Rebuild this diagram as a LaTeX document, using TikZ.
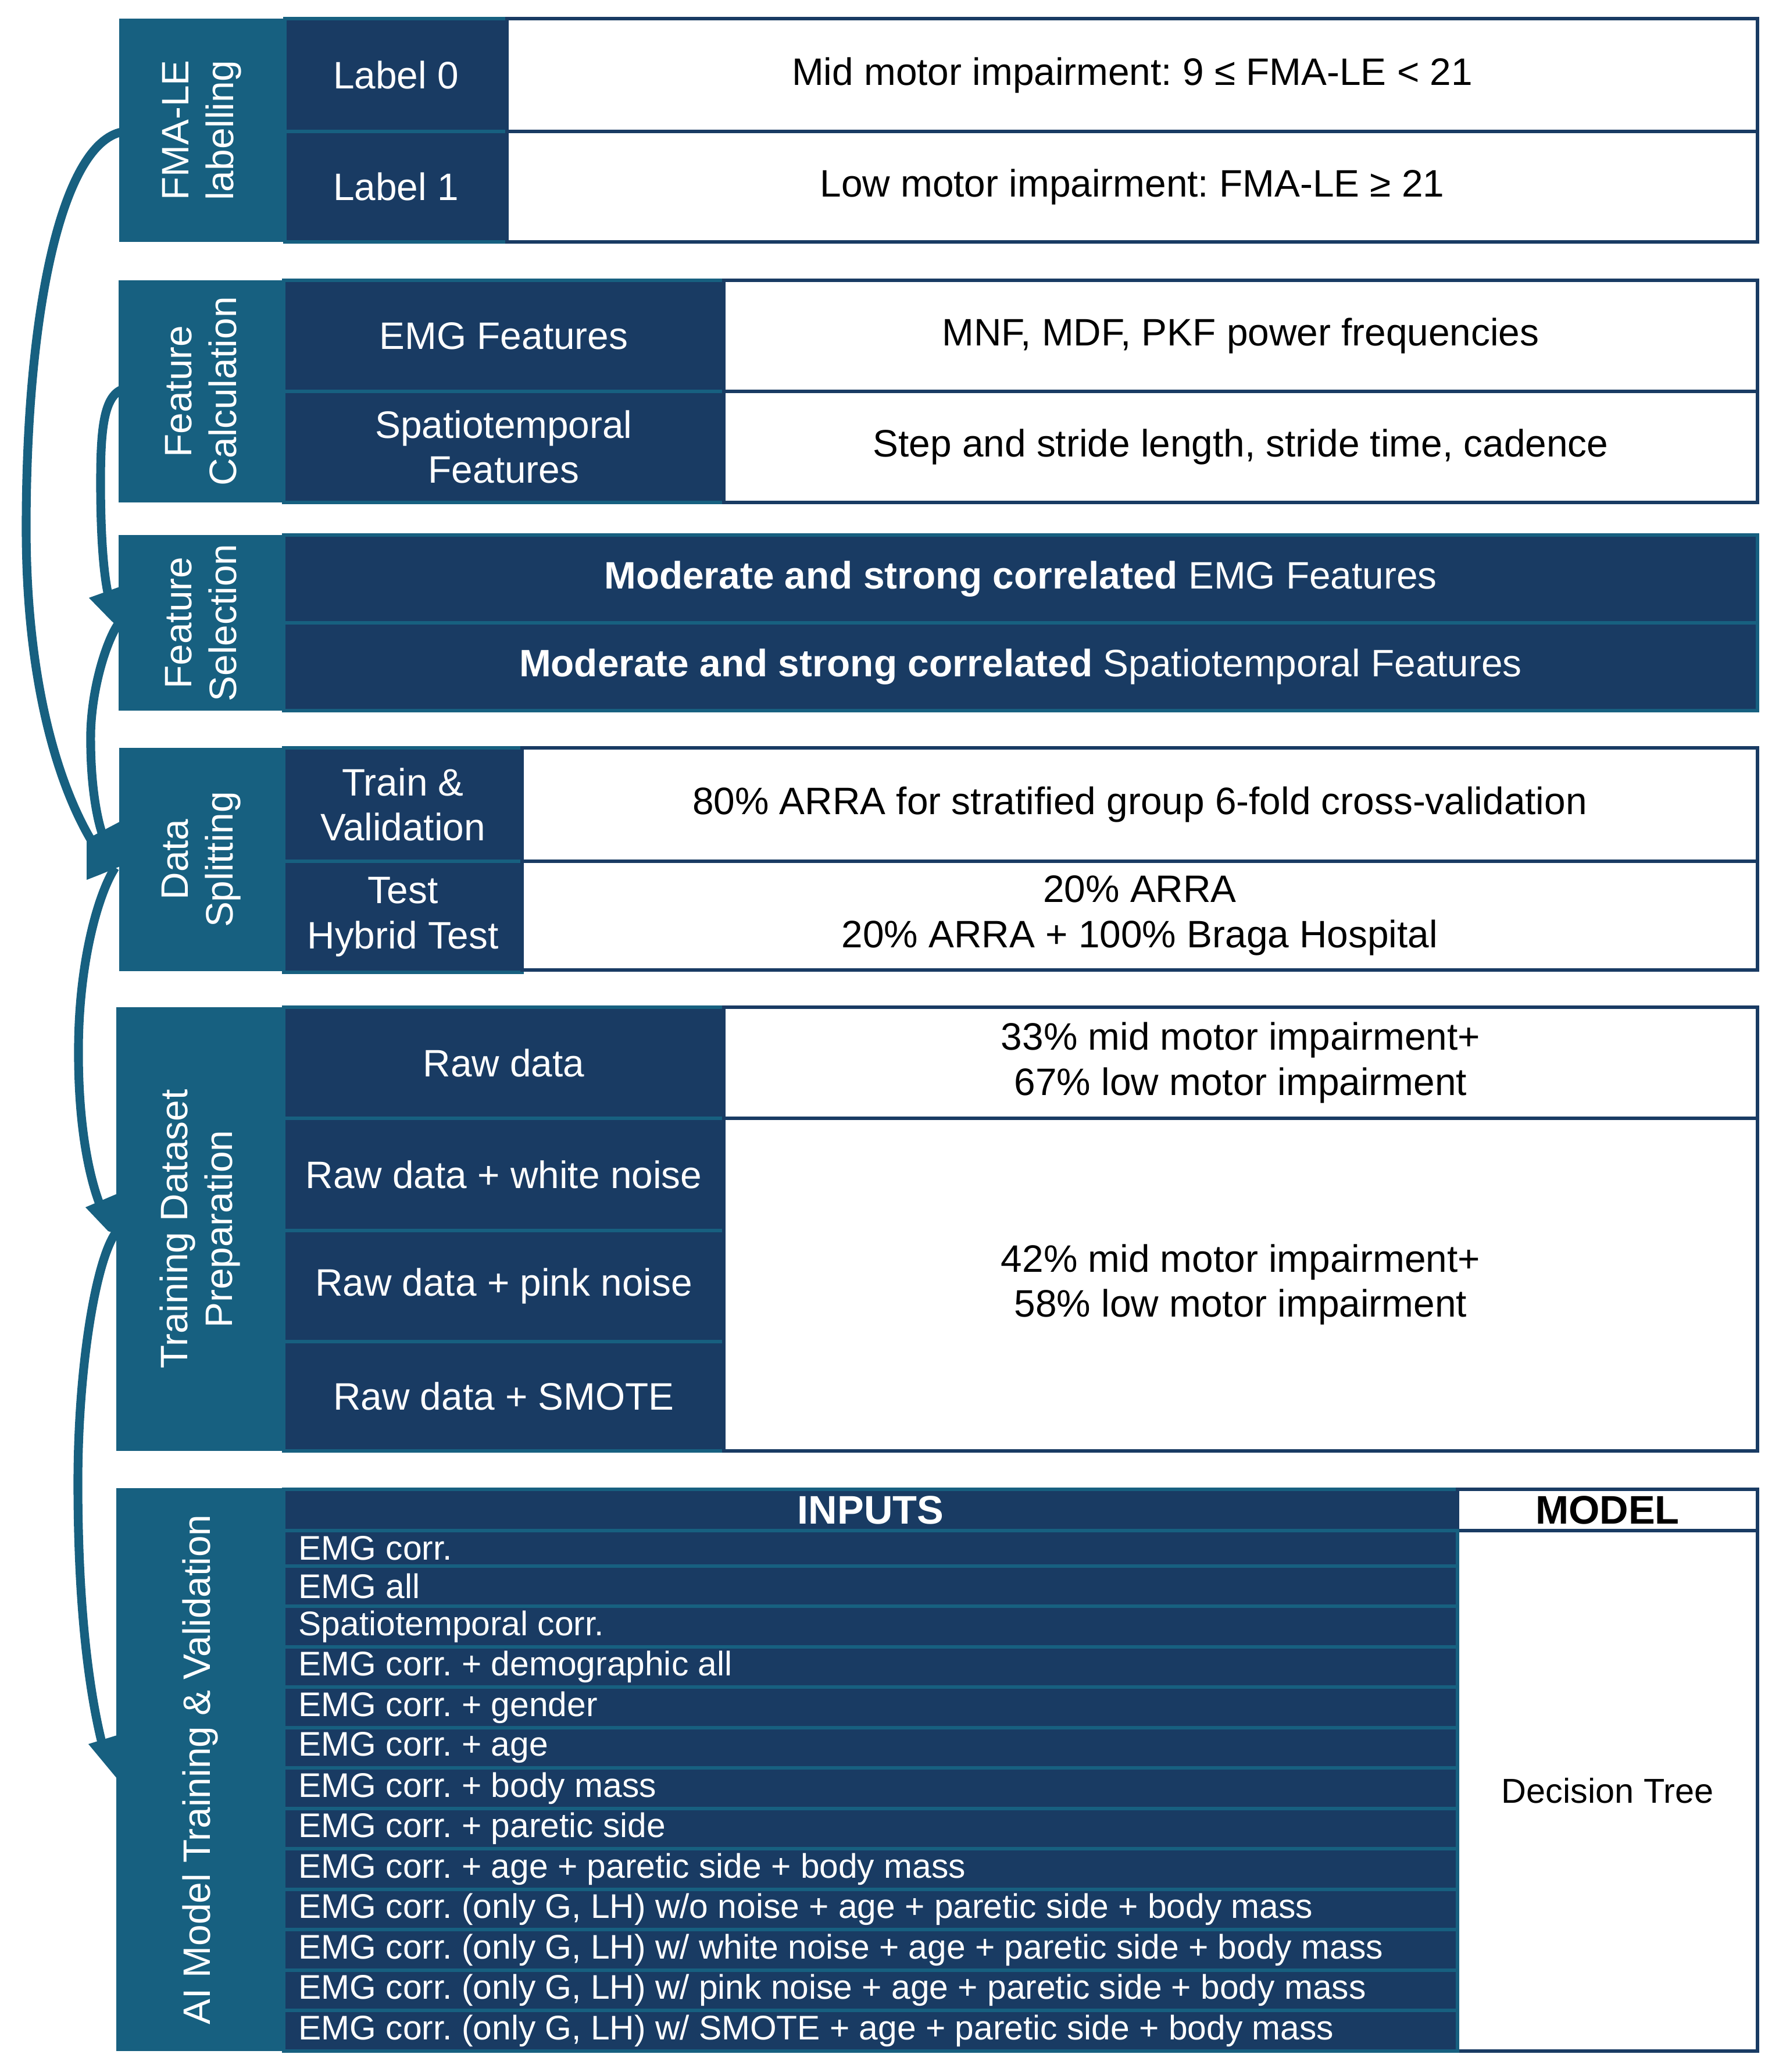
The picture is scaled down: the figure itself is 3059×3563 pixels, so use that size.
\documentclass[tikz,border=0pt]{standalone}
\usepackage{fontspec}
\setmainfont{Liberation Sans}
\usetikzlibrary{calc}
\definecolor{teal1}{RGB}{23,96,128}
\definecolor{navy1}{RGB}{25,59,99}
\newcommand{\cellbox}[7]{%
  \path let \p1=(#3,#4), \p2=(#5,#6) in
    node[#1, minimum width=\x2-\x1, minimum height=\y1-\y2, anchor=north west] (#2) at (\p1) {#7};}
\tikzset{
  cellbase/.style={inner sep=0pt, outer sep=0pt, font=\fontsize{18.7}{22}\selectfont\frenchspacing, align=center},
  tealcol/.style={cellbase, fill=teal1},
  darkcell/.style={cellbase, fill=navy1, draw=teal1, line width=1.6pt, text=white},
  whitecell/.style={cellbase, fill=white, draw=navy1, line width=1.5pt, text=black},
  vlabel/.style={cellbase, text=white, rotate=90},
  rowtext/.style={inner sep=0pt, anchor=west, text=white, font=\fontsize{16.7}{20}\selectfont\frenchspacing},
  flow/.style={draw=teal1, line width=4.3pt},
  headfill/.style={fill=teal1}
}
\begin{document}
\frenchspacing
\begin{tikzpicture}[x=0.01cm, y=-0.01cm]
\useasboundingbox (0,0) rectangle (3059,3563);
\fill[white] (0,0) rectangle (3059,3563);

% ---- Section 1
\cellbox{tealcol}{fma}{205}{32}{490}{416}{}
\cellbox{darkcell}{l0}{490}{32}{872}{226}{Label 0}
\cellbox{darkcell}{l1}{490}{226}{872}{416}{Label 1}
\cellbox{whitecell}{l0d}{872}{32}{3023}{226}{Mid motor impairment: 9 ≤ FMA-LE < 21}
\cellbox{whitecell}{l1d}{872}{226}{3023}{416}{Low motor impairment: FMA-LE ≥ 21}
\node[vlabel] (fmaT) at (fma.center) {FMA-LE\\labelling};

% ---- Section 2
\cellbox{tealcol}{fcalc}{204}{482}{488}{864}{}
\cellbox{darkcell}{emg}{488}{482}{1245}{673}{EMG Features}
\cellbox{darkcell}{spt}{488}{673}{1245}{864}{Spatiotemporal\\Features}
\cellbox{whitecell}{emgd}{1245}{482}{3023}{673}{MNF, MDF, PKF power frequencies}
\cellbox{whitecell}{sptd}{1245}{673}{3023}{864}{Step and stride length, stride time, cadence}
\node[vlabel] (fcalcT) at (fcalc.center) {Feature\\Calculation};

% ---- Section 3
\cellbox{tealcol}{fsel}{204}{920}{488}{1222}{}
\cellbox{darkcell}{sel1}{488}{920}{3023}{1071}{\textbf{Moderate and strong correlated} EMG Features}
\cellbox{darkcell}{sel2}{488}{1071}{3023}{1222}{\textbf{Moderate and strong correlated} Spatiotemporal Features}
\node[vlabel] (fselT) at (fsel.center) {Feature\\Selection};

% ---- Section 4
\cellbox{tealcol}{dsplit}{205}{1286}{488}{1670}{}
\cellbox{darkcell}{tv}{488}{1286}{898}{1481}{Train \&\\Validation}
\cellbox{darkcell}{tt}{488}{1481}{898}{1672}{Test\\Hybrid Test}
\cellbox{whitecell}{tvd}{898}{1286}{3023}{1481}{80\% ARRA for stratified group 6-fold cross-validation}
\cellbox{whitecell}{ttd}{898}{1481}{3023}{1668}{20\% ARRA\\20\% ARRA + 100\% Braga Hospital}
\node[vlabel] (dsplitT) at (dsplit.center) {Data\\Splitting};

% ---- Section 5
\cellbox{tealcol}{tprep}{200}{1732}{488}{2495}{}
\cellbox{darkcell}{r1}{488}{1732}{1245}{1923}{Raw data}
\cellbox{darkcell}{r2}{488}{1923}{1245}{2116}{Raw data + white noise}
\cellbox{darkcell}{r3}{488}{2116}{1245}{2307}{Raw data + pink noise}
\cellbox{darkcell}{r4}{488}{2307}{1245}{2495}{Raw data + SMOTE}
\cellbox{whitecell}{r1d}{1245}{1732}{3023}{1923}{33\% mid motor impairment+\\67\% low motor impairment}
\cellbox{whitecell}{r2d}{1245}{1923}{3023}{2495}{42\% mid motor impairment+\\58\% low motor impairment}
\node[vlabel] (tprepT) at (tprep.center) {Training Dataset\\Preparation};

% ---- Section 6
\cellbox{tealcol}{aim}{200}{2559}{488}{3527}{}
\cellbox{darkcell}{inh}{488}{2561}{2507}{2632}{\fontsize{19.5}{22}\selectfont\bfseries INPUTS}
\cellbox{whitecell}{mdh}{2507}{2561}{3023}{2632}{\fontsize{19.5}{22}\selectfont\bfseries MODEL}
\cellbox{whitecell}{mdb}{2507}{2632}{3023}{3527}{\fontsize{16.9}{20}\selectfont Decision Tree}
\node[vlabel] (aimT) at (aim.center) {AI Model Training \& Validation};

\cellbox{darkcell}{in1}{488}{2632}{2507}{2693}{}
\cellbox{darkcell}{in2}{488}{2693}{2507}{2762}{}
\cellbox{darkcell}{in3}{488}{2762}{2507}{2832}{}
\cellbox{darkcell}{in4}{488}{2832}{2507}{2901}{}
\cellbox{darkcell}{in5}{488}{2901}{2507}{2971}{}
\cellbox{darkcell}{in6}{488}{2971}{2507}{3040}{}
\cellbox{darkcell}{in7}{488}{3040}{2507}{3110}{}
\cellbox{darkcell}{in8}{488}{3110}{2507}{3179}{}
\cellbox{darkcell}{in9}{488}{3179}{2507}{3249}{}
\cellbox{darkcell}{in10}{488}{3249}{2507}{3318}{}
\cellbox{darkcell}{in11}{488}{3318}{2507}{3388}{}
\cellbox{darkcell}{in12}{488}{3388}{2507}{3457}{}
\cellbox{darkcell}{in13}{488}{3457}{2507}{3527}{}
\node[rowtext] (t1) at ([xshift=0.25cm]in1.west) {EMG corr.};
\node[rowtext] (t2) at ([xshift=0.25cm]in2.west) {EMG all};
\node[rowtext] (t3) at ([xshift=0.25cm]in3.west) {Spatiotemporal corr.};
\node[rowtext] (t4) at ([xshift=0.25cm]in4.west) {EMG corr. + demographic all};
\node[rowtext] (t5) at ([xshift=0.25cm]in5.west) {EMG corr. + gender};
\node[rowtext] (t6) at ([xshift=0.25cm]in6.west) {EMG corr. + age};
\node[rowtext] (t7) at ([xshift=0.25cm]in7.west) {EMG corr. + body mass};
\node[rowtext] (t8) at ([xshift=0.25cm]in8.west) {EMG corr. + paretic side};
\node[rowtext] (t9) at ([xshift=0.25cm]in9.west) {EMG corr. + age + paretic side + body mass};
\node[rowtext] (t10) at ([xshift=0.25cm]in10.west) {EMG corr. (only G, LH) w/o noise + age + paretic side + body mass};
\node[rowtext] (t11) at ([xshift=0.25cm]in11.west) {EMG corr. (only G, LH) w/ white noise + age + paretic side + body mass};
\node[rowtext] (t12) at ([xshift=0.25cm]in12.west) {EMG corr. (only G, LH) w/ pink noise + age + paretic side + body mass};
\node[rowtext] (t13) at ([xshift=0.25cm]in13.west) {EMG corr. (only G, LH) w/ SMOTE + age + paretic side + body mass};

% ---- Arrow heads (named corner coordinates)
\coordinate (tipB) at (186,1022);
\coordinate (tipA) at (160,1450);
\coordinate (tipC) at (178,1440);
\coordinate (tipD) at (172,2072);
\coordinate (tipE) at (176,3000);
\fill[headfill] (153,1028) -- (206,1009) -- (206,1080) -- (192,1068) -- cycle;
\fill[headfill] (149,1443) -- (206,1413) -- (206,1490) -- (172,1504) -- (149,1513) -- cycle;
\fill[headfill] (147,2076) -- (201,2053) -- (201,2122) -- (186,2117) -- cycle;
\fill[headfill] (152,2999) -- (201,2984) -- (201,3058) -- cycle;

% ---- Connectors
\draw[flow] ($(fma.west)+(10,2)$) .. controls (110,238) and (46,520) .. (45,900)
  .. controls (44,1200) and (112,1372) .. (tipA);
\draw[flow] ($(fcalc.west)+(8,-4)$) .. controls (178,680) and (173,740) .. (173,830)
  .. controls (173,920) and (178,985) .. (tipB);
\draw[flow] ($(fsel.west)+(0,1)$) .. controls (184,1100) and (158,1180) .. (156,1260)
  .. controls (155,1340) and (165,1405) .. (tipC);
\draw[flow] ($(dsplit.west)+(-7,14)$) .. controls (170,1535) and (136,1650) .. (135,1800)
  .. controls (134,1930) and (152,2020) .. (tipD);
\draw[flow] ($(tprep.west)+(0,5)$) .. controls (165,2165) and (134,2350) .. (134,2550)
  .. controls (134,2780) and (156,2920) .. (tipE);
\end{tikzpicture}
\end{document}
